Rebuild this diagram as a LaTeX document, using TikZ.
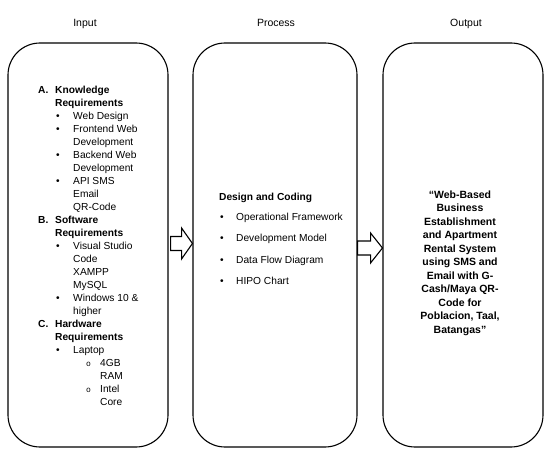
\documentclass[tikz,border=0pt]{standalone}
\usepackage{fontspec}
\setmainfont{Liberation Sans}
\newfontfamily\monof{Liberation Mono}
\usetikzlibrary{calc}
\begin{document}
\begin{tikzpicture}[x=1pt,y=-1pt,
  box/.style={draw, line width=1.1pt, rounded corners=32pt, minimum width=160pt, minimum height=404pt, inner sep=0pt},
  txt/.style={anchor=base west, inner sep=0pt, font=\fontsize{10.2}{12}\selectfont},
  outt/.style={anchor=base, inner sep=0pt, font=\fontsize{10.5}{12}\selectfont\bfseries},
  title/.style={anchor=base, inner sep=0pt, font=\fontsize{10.5}{12}\selectfont},
  blk/.style={draw, line width=1.1pt, fill=white, line join=miter}]
\useasboundingbox (0,0) rectangle (552,452);

% titles
\node[title] (tin)  at (85,26.5)  {Input};
\node[title] (tpro) at (276,26.5) {Process};
\node[title] (tout) at (466,26.5) {Output};

% boxes
\node[box] (inbox)   at (88,245)  {};
\node[box, minimum width=164pt] (procbox) at (275,245) {};
\node[box] (outbox)  at (463,245) {};

% block arrows
\draw[blk] ($(inbox.east)+(2,-8.5)$) -- ($(inbox.east)+(13,-8.5)$) -- ($(inbox.east)+(13,-17)$)
  -- ($(procbox.west)+(0,-1.5)$) -- ($(inbox.east)+(13,14)$) -- ($(inbox.east)+(13,5.5)$)
  -- ($(inbox.east)+(2,5.5)$) -- cycle;
\draw[blk] ($(procbox.east)+(0,-4)$) -- ($(procbox.east)+(13,-4)$) -- ($(procbox.east)+(13,-12)$)
  -- ($(outbox.west)+(0,3)$) -- ($(procbox.east)+(13,18)$) -- ($(procbox.east)+(13,10)$)
  -- ($(procbox.east)+(0,10)$) -- cycle;

% input text
\foreach \n/\x/\t in {
  1/38/{\bfseries A.}, 1/55/{\bfseries Knowledge},
  2/55/{\bfseries Requirements},
  3/56/{\textbullet}, 3/73/{Web Design},
  4/56/{\textbullet}, 4/73/{Frontend Web},
  5/73/{Development},
  6/56/{\textbullet}, 6/73/{Backend Web},
  7/73/{Development},
  8/56/{\textbullet}, 8/73/{API SMS},
  9/73/{Email},
  10/73/{QR-Code},
  11/38/{\bfseries B.}, 11/55/{\bfseries Software},
  12/55/{\bfseries Requirements},
  13/56/{\textbullet}, 13/73/{Visual Studio},
  14/73/{Code},
  15/73/{XAMPP},
  16/73/{MySQL},
  17/56/{\textbullet}, 17/73/{Windows 10 \&},
  18/73/{higher},
  19/38/{\bfseries C.}, 19/55/{\bfseries Hardware},
  20/55/{\bfseries Requirements},
  21/56/{\textbullet}, 21/73/{Laptop},
  22/86/{\monof\fontsize{8}{9}\selectfont o}, 22/100/{4GB},
  23/100/{RAM},
  24/86/{\monof\fontsize{8}{9}\selectfont o}, 24/100/{Intel},
  25/100/{Core}}
  \node[txt] (in-\n-\x) at (\x,{93.3+13*(\n-1)}) {\t};

% process text
\node[txt, font=\fontsize{10.2}{12}\selectfont\bfseries] (phead) at (219,200) {Design and Coding};
\foreach \t [count=\k] in {Operational Framework, Development Model, Data Flow Diagram, HIPO Chart} {
  \node[txt] (pb\k) at (220,{220+21.5*(\k-1)}) {\textbullet};
  \node[txt] (pt\k) at (236,{220+21.5*(\k-1)}) {\t};
}

% output text
\foreach \t [count=\k] in {{“Web-Based}, {Business}, {Establishment}, {and Apartment}, {Rental System},
  {using SMS and}, {Email with G-}, {Cash/Maya QR-}, {Code for}, {Poblacion, Taal,}, {Batangas”}}
  \node[outt] (ol\k) at (460,{198+13.5*(\k-1)}) {\t};
\end{tikzpicture}
\end{document}
